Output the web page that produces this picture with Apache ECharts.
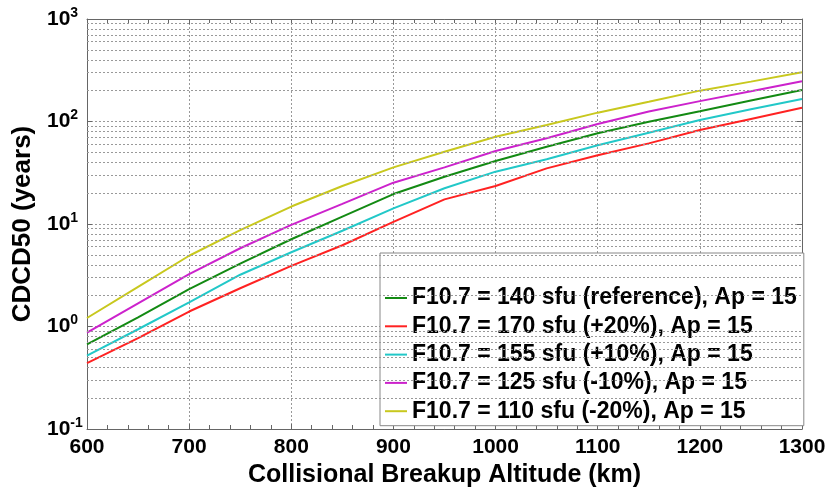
<!DOCTYPE html>
<html>
<head>
<meta charset="utf-8">
<script src="https://cdn.jsdelivr.net/npm/echarts@6/dist/echarts.min.js"></script>
<style>
  html, body { margin: 0; padding: 0; background: #fff; }
  #chart { width: 830px; height: 487px; }
</style>
</head>
<body>
<div id="chart"></div>
<script>
// altitude (km)
var altitudes = [600, 650, 700, 750, 800, 850, 900, 950, 1000, 1050, 1100, 1150, 1200, 1250, 1300];
// CDCD50 (years) per solar flux case
var ref140 = [0.67, 1.23, 2.31, 4.1, 7.1, 11.8, 19.6, 28.9, 41.2, 56.8, 76.7, 99.6, 126, 160, 203];
var plus20 = [0.44, 0.77, 1.40, 2.36, 3.9, 6.2, 10.5, 17.4, 23.5, 34.9, 46.8, 61.2, 82.6, 106, 136];
var plus10 = [0.52, 0.94, 1.72, 3.2, 5.3, 8.6, 14.2, 22.3, 32.4, 42.8, 58.6, 77.8, 103.5, 131.6, 166];
var minus10 = [0.87, 1.68, 3.25, 5.8, 9.8, 15.7, 25.3, 35.7, 51.5, 68.6, 94.5, 125, 158, 197, 247];
var minus20 = [1.21, 2.44, 4.9, 8.7, 14.8, 23.5, 35.7, 50.7, 71, 92.5, 122, 156, 200, 245, 302];

var names = [
    'F10.7 = 140 sfu (reference), Ap = 15',
    'F10.7 = 170 sfu (+20%), Ap = 15',
    'F10.7 = 155 sfu (+10%), Ap = 15',
    'F10.7 = 125 sfu (-10%), Ap = 15',
    'F10.7 = 110 sfu (-20%), Ap = 15'
];
var colors = ['#138a13', '#ff2222', '#22c8c8', '#cc22cc', '#c8c81e'];
var allData = [ref140, plus20, plus10, minus10, minus20];

var fontFam = '"Liberation Sans", Arial, sans-serif';
var frameColor = '#666';

// minor grid lines of the log axis (2..9 in every decade)
var minorLines = [];
[0.1, 1, 10, 100].forEach(function (d) {
    for (var m = 2; m <= 9; m++) {
        minorLines.push({ yAxis: +(d * m).toPrecision(3) });
    }
});

var chart = echarts.init(document.getElementById('chart'), null, { renderer: 'canvas' });

var series = allData.map(function (vals, i) {
    return {
        name: names[i],
        type: 'line',
        xAxisIndex: 0,
        yAxisIndex: 0,
        symbol: 'none',
        color: colors[i],
        lineStyle: { width: 2, color: colors[i] },
        data: vals.map(function (v, k) { return [altitudes[k], v]; }),
        z: 3
    };
});
series.push({
    type: 'line',
    data: [],
    silent: true,
    markLine: {
        silent: true,
        symbol: 'none',
        label: { show: false },
        lineStyle: { type: [2, 2], color: '#999', width: 1 },
        data: minorLines
    },
    z: 1
});

var option = {
    animation: false,
    backgroundColor: '#fff',
    textStyle: { fontFamily: fontFam },
    grid: { left: 87, right: 28, top: 19, bottom: 58, outerBoundsMode: 'none' },
    legend: {
        data: names,
        orient: 'vertical',
        left: 380,
        top: 253,
        icon: 'rect',
        itemWidth: 22,
        itemHeight: 2,
        itemGap: 5.3,
        padding: [33.5, 7, 3, 5],
        backgroundColor: '#fff',
        borderColor: '#888',
        borderWidth: 1,
        selectedMode: false,
        textStyle: { fontSize: 23, fontWeight: 'bold', color: '#000', fontFamily: fontFam, lineHeight: 23 }
    },
    xAxis: [{
        type: 'value',
        min: 600,
        max: 1300,
        interval: 100,
        name: 'Collisional Breakup Altitude (km)',
        nameLocation: 'middle',
        nameGap: 26,
        nameTextStyle: { fontSize: 25, fontWeight: 'bold', color: '#000', fontFamily: fontFam },
        axisLine: { show: true, lineStyle: { color: frameColor } },
        axisTick: { show: true, inside: true, length: 5, lineStyle: { color: frameColor } },
        minorTick: { show: true, splitNumber: 5, length: 4, lineStyle: { color: frameColor } },
        axisLabel: {
            fontSize: 21, fontWeight: 'bold', color: '#000', margin: 8, fontFamily: fontFam,
            formatter: function (v) { return String(v); }
        },
        splitLine: { show: true, lineStyle: { type: [2, 2], color: '#999', width: 1 } }
    }, {
        type: 'value',
        position: 'top',
        min: 600,
        max: 1300,
        interval: 100,
        axisLine: { show: true, lineStyle: { color: frameColor } },
        axisTick: { show: true, inside: true, length: 5, lineStyle: { color: frameColor } },
        minorTick: { show: true, splitNumber: 5, length: 4, lineStyle: { color: frameColor } },
        axisLabel: { show: false },
        splitLine: { show: false }
    }],
    yAxis: [{
        type: 'log',
        logBase: 10,
        min: 0.1,
        max: 1000,
        name: 'CDCD50 (years)',
        nameLocation: 'middle',
        nameGap: 49,
        nameTextStyle: { fontSize: 26, fontWeight: 'bold', color: '#000', fontFamily: fontFam },
        axisLine: { show: true, lineStyle: { color: frameColor } },
        axisTick: { show: true, inside: true, length: 5, lineStyle: { color: frameColor } },
        axisLabel: {
            align: 'left',
            margin: 40,
            formatter: function (v) {
                var e = Math.round(Math.log(v) / Math.LN10);
                return '{b|10}{s|' + e + '}';
            },
            rich: {
                b: { fontSize: 21, fontWeight: 'bold', color: '#000', lineHeight: 26, fontFamily: fontFam },
                s: { fontSize: 14, fontWeight: 'bold', color: '#000', lineHeight: 12, verticalAlign: 'top', fontFamily: fontFam }
            }
        },
        splitLine: { show: true, lineStyle: { type: [2, 2], color: '#999', width: 1 } }
    }, {
        type: 'log',
        logBase: 10,
        min: 0.1,
        max: 1000,
        position: 'right',
        axisLine: { show: true, lineStyle: { color: frameColor } },
        axisTick: { show: true, inside: true, length: 5, lineStyle: { color: frameColor } },
        axisLabel: { show: false },
        splitLine: { show: false }
    }],
    series: series
};

chart.setOption(option);
</script>
</body>
</html>
